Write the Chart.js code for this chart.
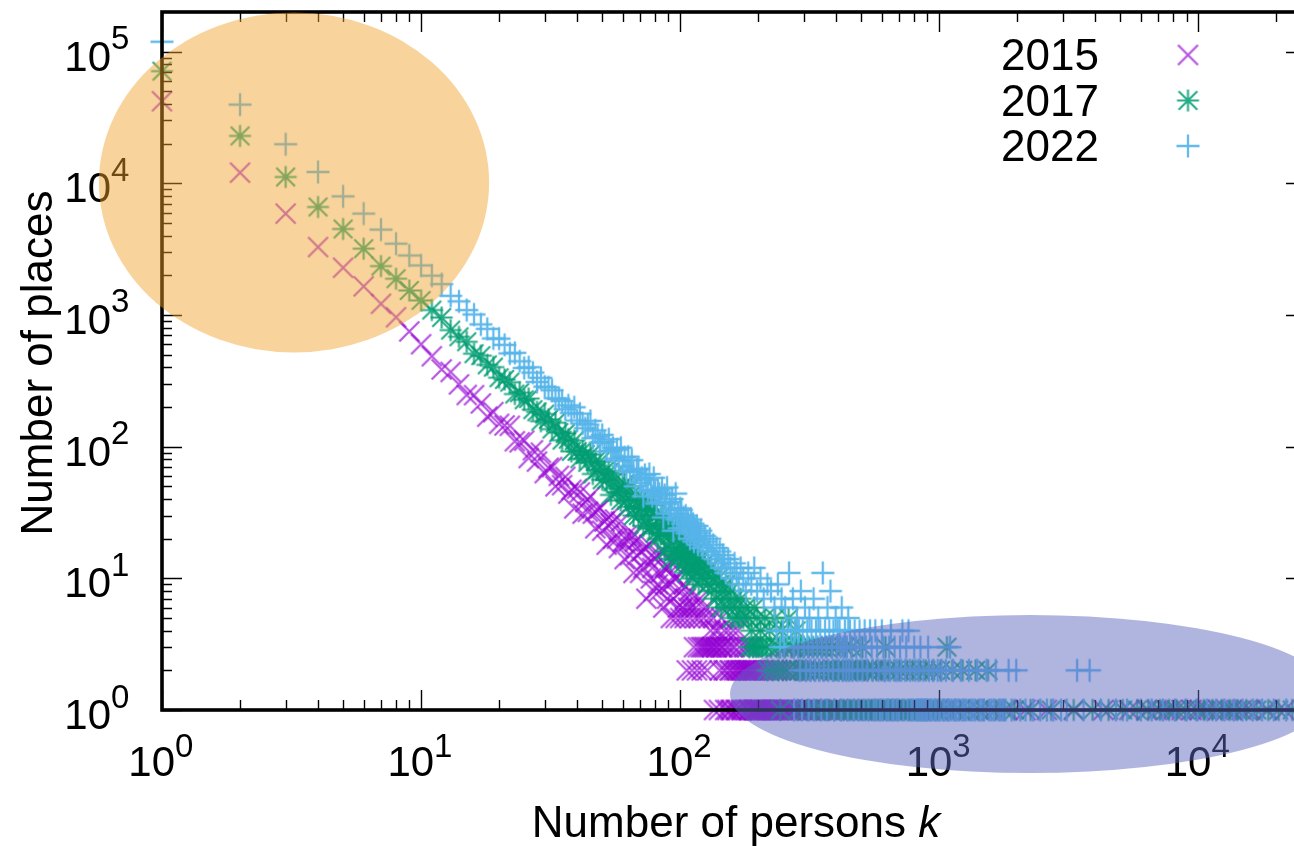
<!DOCTYPE html>
<html>
<head>
<meta charset="utf-8">
<script src="https://cdn.jsdelivr.net/npm/chart.js@4.4.1/dist/chart.umd.min.js"></script>
<style>
html,body{margin:0;padding:0;background:#fff;overflow:hidden;width:1294px;height:846px;}
#wrap{position:absolute;left:0;top:0;width:1320px;height:846px;}
canvas{display:block;}
</style>
</head>
<body>
<div id="wrap"><canvas id="c" width="1320" height="846"></canvas></div>
<script>
// ---------------- DATA ----------------
const seriesLabels = ['2015', '2017', '2022'];

// Number of persons k = 1..100 (every integer)
const kCore = [1,2,3,4,5,6,7,8,9,10,
  11,12,13,14,15,16,17,18,19,20,
  21,22,23,24,25,26,27,28,29,30,
  31,32,33,34,35,36,37,38,39,40,
  41,42,43,44,45,46,47,48,49,50,
  51,52,53,54,55,56,57,58,59,60,
  61,62,63,64,65,66,67,68,69,70,
  71,72,73,74,75,76,77,78,79,80,
  81,82,83,84,85,86,87,88,89,90,
  91,92,93,94,95,96,97,98,99,100];

// Number of places for k = 1..100
const core2015 = [42000,12050,5890,3280,2285,1650,1217,962,750,600,
  486,386,369,297,247,246,213,169,183,149,
  145,144,110,108,111,82,94,77,90,63,
  69,70,50,60,51,59,44,47,34,48,
  45,31,38,32,42,31,24,33,34,23,
  27,18,29,26,20,28,20,17,27,19,
  14,21,19,15,21,11,19,15,20,11,
  16,12,17,7,14,18,10,12,8,14,
  15,9,8,11,16,6,12,9,7,12,
  9,5,13,7,10,5,10,6,13,5];

const core2017 = [71100,22900,11170,6610,4500,3190,2350,1885,1535,1290,
  1090,956,768,683,626,508,491,418,402,334,
  324,309,251,257,227,232,191,184,156,177,
  161,136,152,128,112,126,114,92,111,92,
  81,93,87,76,87,62,77,67,77,56,
  65,56,64,43,54,62,45,48,39,50,
  52,39,35,42,50,30,40,35,30,40,
  34,25,39,28,33,24,33,25,36,22,
  30,20,26,22,30,22,16,25,26,17,
  21,14,24,21,16,24,17,14,24,17];

const core2022 = [119000,39600,19800,12200,7960,5890,4450,3480,2830,2380,
  1990,1716,1397,1270,1089,1009,848,785,663,661,
  593,511,516,445,396,401,365,310,333,286,
  282,268,233,230,222,192,206,180,199,158,
  178,150,138,147,157,116,133,119,107,123,
  109,92,114,93,98,81,95,78,98,71,
  83,65,84,66,79,64,50,67,68,53,
  58,42,61,56,46,62,47,42,58,45,
  37,47,44,38,48,29,43,37,49,31,
  38,33,40,23,34,44,28,31,24,34];

// k > 100 with larger counts: k values and number of places
const mid2015K = [101,102,103,104,105,106,107,108,109,110,111,112,114,115,116,118,119,121,123,125,127,129,131,134,137,140,144,148,153,160,167];
const mid2015N = [8,6,9,5,7,2,6,8,5,6,2,7,5,6,2,5,7,2,5,6,2,5,4,5,4,4,5,4,4,4,4];

const mid2017K = [101,102,103,104,105,106,107,108,109,110,111,112,113,114,115,116,117,118,119,120,
  122,124,126,128,130,132,134,136,138,140,142,144,146,148,150,
  153,156,159,162,165,168,171,175,179,183,188,193,198,204,212,221,232,246,262,280];
const mid2017N = [15,19,13,17,14,11,16,13,18,12,15,10,14,12,16,11,13,9,14,12,
  10,13,11,9,12,8,10,11,7,10,9,6,8,7,9,
  6,8,5,7,6,5,7,5,6,5,4,6,5,4,5,4,5,4,5,4];

const mid2022K = [101,102,103,104,105,106,107,108,109,110,111,112,113,114,115,116,117,118,119,120,
  122,124,126,128,130,132,134,136,138,140,142,144,146,148,150,
  153,156,159,162,165,168,171,175,179,183,188,193,198,
  204,210,217,224,231,238,246,254,263,272,282,292,303,315,327,341,355,370,380,398,420,445];
const mid2022N = [33,26,29,24,30,22,27,25,20,28,23,26,19,24,21,25,18,22,20,23,
  17,21,19,16,20,15,18,14,17,13,16,12,15,14,11,
  14,12,10,13,11,9,12,10,8,11,9,12,8,
  10,7,9,8,6,9,7,6,11,7,5,8,6,5,7,5,11,6,8,5,6,5];

// Far tail: k values at which the number of places is 4, 3, 2 or 1
const n3of2015 = [113,117,120,122,124,126,128,130,132,133,136,138,139,143,145,146,151,154,159,162,169,176,181,188];
const n2of2015 = [142,147,150,155,157,161,164,166,170,171,174,177,179,180,183,185,187,190,192,195,198,203,208,214,221,229,236,245,258,270,287,305,328,356,395,440,488,560];
const n1of2015 = [135,141,149,152,156,158,163,165,168,172,173,178,182,184,186,189,191,193,194,196,197,199,200,202,204,205,207,209,211,213,216,218,220,223,226,228,231,234,238,241,243,248,252,255,261,265,268,274,279,283,290,295,300,310,316,322,334,340,347,362,370,378,387,405,415,428,452,466,480,505,520,545,575,598,625,660,700,735,790,840,905,980,1050,1160,1290,1420,1600,1830,2150,2600,3300,4300,5400,6300,6900,7500,7900,8600,9400,10100,10800,11900,12800,13500,14700,15800,18300,21500];

const n3of2017 = [185,191,196,201,207,215,224,236,241,253,268,273,291,299,312,326,338,351,366,384,402,431,458,505,620,1070];
const n2of2017 = [217,228,239,249,257,277,286,296,305,318,331,344,357,371,389,397,409,423,437,449,462,477,494,513,528,551,572,597,634,668,702,749,790,842,887,945,1010,1120,1230,1380,1540];
const n1of2017 = [243,283,309,335,348,362,375,393,415,427,441,455,470,486,499,517,534,546,563,579,590,610,628,645,660,680,695,715,736,760,775,805,828,855,875,900,925,960,990,1030,1085,1150,1200,1300,1420,1480,1650,1780,1950,2250,2700,3300,3900,4500,5100,5800,6400,7100,7700,8200,8900,9800,10500,11300,12300,13200,14100,15300,16800,18600,20400,23000];

const n4of2022 = [235,249,259,268,277,287,297,309,321,334,347,362,376,390,405,412,432,452,471,492,515,540,566,600,650,720,760];
const n3of2022 = [243,252,274,285,300,312,324,338,352,366,385,402,416,428,440,458,478,498,520,548,575,608,640,672,705,745,800,845,905,1100];
const n2of2022 = [290,306,318,331,344,358,373,388,408,425,437,449,462,483,505,527,553,582,613,618,645,678,690,712,738,770,808,830,868,912,948,985,1020,1060,1130,1210,1300,1400,1520,1650,1850,1980,3400,3800];
const n1of2022 = [275,295,313,328,350,368,393,418,443,467,488,510,532,558,571,590,602,625,636,658,666,684,698,726,754,779,790,815,824,838,851,862,877,890,898,920,935,958,970,995,1005,1035,1048,1075,1090,1115,1145,1160,1185,1225,1245,1270,1320,1345,1375,1430,1455,1490,1560,1590,1625,1700,1720,1760,1800,1900,2050,2150,2300,2450,2600,2750,2950,3100,3600,4200,4800,5300,6000,6600,7300,8100,9000,9900,10800,11700,12600,13700,14800,16200,17600,19500,21800,24000];

// Axis ranges and tick labels
const xRange = [1, 26000];
const yRange = [1, 200000];
const xTickVals = [1, 10, 100, 1000, 10000];
const xTickExp = ['0', '1', '2', '3', '4'];
const yTickVals = [1, 10, 100, 1000, 10000, 100000];
const yTickExp = ['0', '1', '2', '3', '4', '5'];
const xTitle = 'Number of persons ';
const xTitleVar = 'k';
const yTitle = 'Number of places';

// Highlight ellipses (bounding boxes in data units)
const highlightRegions = [
  { x0: 0.571, x1: 18.3, y0: 519, y1: 198000, color: 'rgba(240,160,40,0.46)' },
  { x0: 155.6, x1: 32200, y0: 0.332, y1: 5.27, color: 'rgba(93,105,191,0.49)' }
];

// ---------------- MARKERS ----------------
function marker(kind, color, half, lw) {
  const s = Math.ceil(half * 2 + lw + 2);
  const c = document.createElement('canvas');
  c.width = s; c.height = s;
  const g = c.getContext('2d');
  const m = s / 2;
  g.strokeStyle = color; g.lineWidth = lw; g.lineCap = 'butt';
  g.beginPath();
  if (kind === 'x') {
    g.moveTo(m - half, m - half); g.lineTo(m + half, m + half);
    g.moveTo(m - half, m + half); g.lineTo(m + half, m - half);
  } else if (kind === '+') {
    g.moveTo(m - half, m); g.lineTo(m + half, m);
    g.moveTo(m, m - half); g.lineTo(m, m + half);
  } else {
    const d = half * 0.85;
    g.moveTo(m - half, m); g.lineTo(m + half, m);
    g.moveTo(m, m - half); g.lineTo(m, m + half);
    g.moveTo(m - d, m - d); g.lineTo(m + d, m + d);
    g.moveTo(m - d, m + d); g.lineTo(m + d, m - d);
  }
  g.stroke();
  return c;
}
const mk2015 = marker('x', 'rgba(148,0,211,0.68)', 10, 2.2);
const mk2017 = marker('*', 'rgba(0,158,115,0.85)', 11, 2.1);
const mk2022 = marker('+', 'rgba(86,180,233,0.92)', 11.5, 2.3);
const markers = [mk2015, mk2017, mk2022];

function buildSeries(core, midK, midN, byCount) {
  const out = kCore.map((k, i) => ({ x: k, y: core[i] }));
  midK.forEach((k, i) => out.push({ x: k, y: midN[i] }));
  byCount.forEach(([n, ks]) => ks.forEach(k => out.push({ x: k, y: n })));
  return out;
}

const FONT = '"Liberation Sans", Arial, Helvetica, sans-serif';

const overlay = {
  id: 'overlay',
  afterDraw(chart) {
    const ctx = chart.ctx, xs = chart.scales.x, ys = chart.scales.y, a = chart.chartArea;
    const L = a.left, R = a.right, T = a.top, B = a.bottom;
    ctx.save();
    // tick marks (all four sides, inward)
    ctx.strokeStyle = '#000'; ctx.lineWidth = 1.4; ctx.beginPath();
    for (let d = 1; d <= xs.max; d *= 10) {
      for (let m = 1; m < 10; m++) {
        const v = d * m; if (v >= xs.max) break;
        const len = m === 1 ? 20 : 10; const p = Math.round(xs.getPixelForValue(v)) + 0.5;
        ctx.moveTo(p, B); ctx.lineTo(p, B - len);
        ctx.moveTo(p, T); ctx.lineTo(p, T + len);
      }
    }
    for (let d = 1; d <= ys.max; d *= 10) {
      for (let m = 1; m < 10; m++) {
        const v = d * m; if (v >= ys.max) break;
        const len = m === 1 ? 20 : 10; const p = Math.round(ys.getPixelForValue(v)) + 0.5;
        ctx.moveTo(L, p); ctx.lineTo(L + len, p);
        ctx.moveTo(R, p); ctx.lineTo(R - len, p);
      }
    }
    ctx.stroke();
    // border box
    ctx.lineWidth = 3.6;
    ctx.strokeRect(L, T, R - L, B - T);

    // tick labels
    ctx.fillStyle = '#000'; ctx.textBaseline = 'alphabetic';
    const baseFont = '42px ' + FONT, supFont = '33px ' + FONT;
    xTickVals.forEach((v, i) => {
      const p = xs.getPixelForValue(v);
      ctx.font = baseFont; ctx.textAlign = 'right'; ctx.fillText('10', p + 13, 776);
      ctx.font = supFont; ctx.textAlign = 'left'; ctx.fillText(xTickExp[i], p + 13, 757);
    });
    yTickVals.forEach((v, i) => {
      const p = ys.getPixelForValue(v);
      ctx.font = baseFont; ctx.textAlign = 'right'; ctx.fillText('10', 111, p + 19);
      ctx.font = supFont; ctx.textAlign = 'left'; ctx.fillText(yTickExp[i], 111, p - 2.5);
    });

    // axis titles
    ctx.font = '44px ' + FONT;
    const w1 = ctx.measureText(xTitle).width;
    ctx.font = 'italic 44px ' + FONT;
    const w2 = ctx.measureText(xTitleVar).width;
    const x0 = (L + R) / 2 + 2 - (w1 + w2) / 2;
    ctx.textAlign = 'left';
    ctx.font = '44px ' + FONT; ctx.fillText(xTitle, x0, 837);
    ctx.font = 'italic 44px ' + FONT; ctx.fillText(xTitleVar, x0 + w1, 837);

    ctx.save();
    ctx.translate(52, 363); ctx.rotate(-Math.PI / 2);
    ctx.font = '44px ' + FONT; ctx.textAlign = 'center';
    ctx.fillText(yTitle, 0, 0);
    ctx.restore();

    // legend
    ctx.font = '44px ' + FONT; ctx.textAlign = 'right';
    seriesLabels.forEach((lab, i) => {
      const by = 70 + i * 45.5;
      ctx.fillText(lab, 1099, by);
      const mk = markers[i];
      ctx.drawImage(mk, 1188 - mk.width / 2, by - 15 - mk.height / 2);
    });

    // highlight ellipses on top
    highlightRegions.forEach(e => {
      const x1 = xs.getPixelForValue(e.x0), x2 = xs.getPixelForValue(e.x1);
      const y1 = ys.getPixelForValue(e.y0), y2 = ys.getPixelForValue(e.y1);
      ctx.fillStyle = e.color;
      ctx.beginPath();
      ctx.ellipse((x1 + x2) / 2, (y1 + y2) / 2, Math.abs(x2 - x1) / 2, Math.abs(y2 - y1) / 2, 0, 0, Math.PI * 2);
      ctx.fill();
    });
    ctx.restore();
  }
};

new Chart(document.getElementById('c').getContext('2d'), {
  type: 'scatter',
  data: {
    datasets: [
      { label: seriesLabels[0], data: buildSeries(core2015, mid2015K, mid2015N, [[3, n3of2015], [2, n2of2015], [1, n1of2015]]),
        pointStyle: mk2015, pointRadius: 3, order: 3, clip: false },
      { label: seriesLabels[1], data: buildSeries(core2017, mid2017K, mid2017N, [[3, n3of2017], [2, n2of2017], [1, n1of2017]]),
        pointStyle: mk2017, pointRadius: 3, order: 2, clip: false },
      { label: seriesLabels[2], data: buildSeries(core2022, mid2022K, mid2022N, [[4, n4of2022], [3, n3of2022], [2, n2of2022], [1, n1of2022]]),
        pointStyle: mk2022, pointRadius: 3, order: 1, clip: false }
    ]
  },
  options: {
    responsive: false,
    animation: false,
    events: [],
    layout: { padding: { left: 162, right: 14, top: 12, bottom: 136 } },
    plugins: { legend: { display: false }, tooltip: { enabled: false } },
    scales: {
      x: { type: 'logarithmic', min: xRange[0], max: xRange[1], display: false, bounds: 'data' },
      y: { type: 'logarithmic', min: yRange[0], max: yRange[1], display: false, bounds: 'data' }
    }
  },
  plugins: [overlay]
});
</script>
</body>
</html>
